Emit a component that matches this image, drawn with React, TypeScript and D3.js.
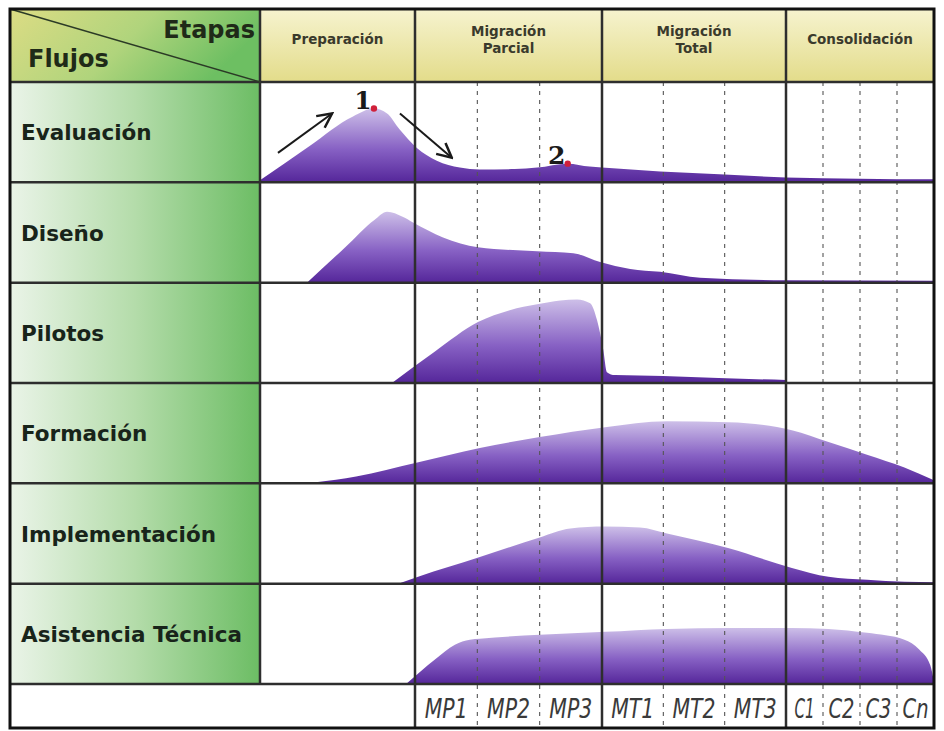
import React from "react";
import * as d3 from "d3";

// ---------- data ----------
const phases = ["Preparación", "Migración\nParcial", "Migración\nTotal", "Consolidación"];
const phaseBounds = [0, 1, 4, 7, 11];
const iterations = ["MP1", "MP2", "MP3", "MT1", "MT2", "MT3", "C1", "C2", "C3", "Cn"];
const iterationStart = 1;
const flows = ["Evaluación", "Diseño", "Pilotos", "Formación", "Implementación", "Asistencia Técnica"];

// [iteration unit, effort % of row height]
const evaluacion: [number, number][] = [
  [0, 1], [0.32, 36], [0.6, 66], [0.735, 74], [0.82, 69], [0.9, 53], [1.03, 34], [1.35, 21],
  [1.72, 14], [2.04, 12], [2.6, 12.5], [2.96, 14], [3.45, 18], [3.8, 15], [4.0, 14],
  [4.95, 10], [6.0, 7], [7.0, 4], [11.0, 2],
];
const diseno: [number, number][] = [
  [0.31, 0], [0.55, 35], [0.74, 63], [0.82, 71], [0.92, 66], [0.99, 60], [1.45, 45], [2.01, 35],
  [2.96, 31], [3.54, 29], [3.97, 20], [4.46, 13], [4.95, 10], [5.6, 4], [7.0, 1.5], [11.0, 1],
];
const pilotos: [number, number][] = [
  [0.86, 0], [1.32, 31], [2.01, 61], [2.52, 73], [2.96, 79], [3.33, 83], [3.6, 84],
  [3.81, 80], [3.92, 63], [4.02, 33], [4.08, 10], [4.21, 7], [5.0, 6], [5.9, 4], [7.0, 2],
];
const formacion: [number, number][] = [
  [0.36, 0], [0.62, 6], [1.02, 20], [2.04, 35], [3.0, 46], [4.05, 56], [5.06, 62],
  [6.07, 61], [7.16, 53], [8.15, 41], [9.19, 28], [10.2, 15], [11.0, 2],
];
const implementacion: [number, number][] = [
  [0.91, 0], [1.05, 6], [2.04, 26], [3.0, 46], [3.49, 55], [4.05, 57], [4.62, 56],
  [5.06, 50], [6.07, 35], [7.16, 15], [8.15, 6], [9.19, 3], [10.2, 1], [11.0, 0.5],
];
const asistencia: [number, number][] = [
  [0.95, 0], [1.32, 24], [1.64, 39], [1.88, 44], [2.04, 45], [3.0, 49], [4.05, 52],
  [5.06, 55], [6.07, 56], [7.16, 56], [8.15, 55], [9.19, 51], [10.2, 44], [10.6, 34],
  [10.9, 18], [11.0, 1],
];
const series = [evaluacion, diseno, pilotos, formacion, implementacion, asistencia];

// milestones on Evaluación: [unit, label]
const milestones: [number, string][] = [[0.735, "1"], [3.45, "2"]];
// arrows on Evaluación: [u0, v0, u1, v1]
const arrows: [number, number, number, number][] = [
  [0.116, 29, 0.465, 69],
  [0.903, 69, 1.59, 24],
];

// ---------- layout ----------
const W = 944, H = 731;
const L = 10, T = 9, R = 934, B = 728;
const labelRight = 260;
const headerBottom = 82;
const rowsBottom = 684;

export default function App() {
  const x = d3.scaleLinear().domain(phaseBounds).range([labelRight, 415, 602, 786, R]);
  const rowBand = d3.scaleBand<string>().domain(flows).range([headerBottom, rowsBottom]);
  const rowH = rowBand.bandwidth();
  const yFor = (flow: string) =>
    d3.scaleLinear().domain([0, 100]).range([rowBand(flow)! + rowH - 1, rowBand(flow)! + 1]);

  const evalY = yFor(flows[0]);
  const interp = (pts: [number, number][], u: number) => {
    for (let i = 0; i < pts.length - 1; i++) {
      if (u >= pts[i][0] && u <= pts[i + 1][0]) {
        const t = (u - pts[i][0]) / (pts[i + 1][0] - pts[i][0]);
        return pts[i][1] + t * (pts[i + 1][1] - pts[i][1]);
      }
    }
    return 0;
  };

  const iterBounds = d3.range(iterationStart, iterationStart + iterations.length + 1);
  const dashed = iterBounds.filter((b) => !phaseBounds.includes(b));

  const gridColor = "#2e2e2e";

  return (
    <svg
      width={W}
      height={H}
      style={{ position: "absolute", left: 0, top: 0, background: "#fff" }}
      fontFamily="DejaVu Sans, Verdana, sans-serif"
    >
      <defs>
        <linearGradient id="hdr" x1="0" y1="0" x2="0" y2="1">
          <stop offset="0" stopColor="#f6f3cf" />
          <stop offset="1" stopColor="#e3dc8a" />
        </linearGradient>
        <linearGradient id="corner" x1="0" y1="0" x2="1" y2="0.3">
          <stop offset="0" stopColor="#dcdc84" />
          <stop offset="0.55" stopColor="#b0d47c" />
          <stop offset="1" stopColor="#6dbf62" />
        </linearGradient>
        <linearGradient id="lbl" x1="0" y1="0" x2="1" y2="0">
          <stop offset="0" stopColor="#eaf4e8" />
          <stop offset="0.5" stopColor="#b4dcaa" />
          <stop offset="1" stopColor="#6cbd64" />
        </linearGradient>
        <linearGradient id="hump" x1="0" y1="0" x2="0" y2="1">
          <stop offset="0" stopColor="#cdbfe8" />
          <stop offset="0.55" stopColor="#8761c4" />
          <stop offset="1" stopColor="#55269a" />
        </linearGradient>
        <marker id="arr" viewBox="0 0 10 10" refX="9" refY="5" markerWidth="9" markerHeight="9" orient="auto">
          <path d="M1,1 L9,5 L1,9" fill="none" stroke="#1a1a1a" strokeWidth="1.4" />
        </marker>
      </defs>

      {/* backgrounds */}
      <rect x={L} y={T} width={labelRight - L} height={headerBottom - T} fill="url(#corner)" />
      <rect x={labelRight} y={T} width={R - labelRight} height={headerBottom - T} fill="url(#hdr)" />
      <rect x={L} y={headerBottom} width={labelRight - L} height={rowsBottom - headerBottom} fill="url(#lbl)" />

      {/* humps */}
      {flows.map((f, i) => {
        const y = yFor(f);
        const area = d3
          .area<[number, number]>()
          .x((d) => x(d[0]))
          .y0(y(0) + 1)
          .y1((d) => y(d[1]))
          .curve(d3.curveMonotoneX);
        return <path key={f} d={area(series[i]) || ""} fill="url(#hump)" />;
      })}

      {/* dashed iteration lines */}
      {dashed.map((b) => (
        <line
          key={"d" + b}
          x1={x(b)}
          x2={x(b)}
          y1={headerBottom}
          y2={B}
          stroke="#555"
          strokeWidth={1.1}
          strokeDasharray="4,5"
        />
      ))}

      {/* horizontal lines */}
      {flows.map((f) => (
        <line key={"h" + f} x1={L} x2={R} y1={rowBand(f)!} y2={rowBand(f)!} stroke={gridColor} strokeWidth={2.5} />
      ))}
      <line x1={L} x2={R} y1={rowsBottom} y2={rowsBottom} stroke={gridColor} strokeWidth={2.5} />

      {/* vertical phase lines */}
      <line x1={labelRight} x2={labelRight} y1={T} y2={rowsBottom} stroke={gridColor} strokeWidth={2.5} />
      {phaseBounds.slice(1, -1).map((b) => (
        <line key={"v" + b} x1={x(b)} x2={x(b)} y1={T} y2={B} stroke={gridColor} strokeWidth={2.5} />
      ))}

      {/* corner diagonal */}
      <line x1={L} y1={T} x2={labelRight} y2={headerBottom} stroke="#2b3a26" strokeWidth={1.5} />
      <text x={255} y={38} textAnchor="end" fontWeight="bold" fontSize={24} fill="#1f2a18">
        Etapas
      </text>
      <text x={28} y={67} fontWeight="bold" fontSize={24} fill="#1f2a18">
        Flujos
      </text>

      {/* phase headers */}
      {phases.map((p, i) => {
        const cx = (x(phaseBounds[i]) + x(phaseBounds[i + 1])) / 2;
        const lines = p.split("\n");
        const baseY = lines.length === 1 ? 44 : 36;
        return (
          <text key={p} x={cx} y={baseY} textAnchor="middle" fontWeight="bold" fontSize={13.5} fill="#3a3a2c">
            {lines.map((ln, k) => (
              <tspan key={k} x={cx} dy={k === 0 ? 0 : 17}>
                {ln}
              </tspan>
            ))}
          </text>
        );
      })}

      {/* flow labels */}
      {flows.map((f) => (
        <text
          key={"t" + f}
          x={21}
          y={rowBand(f)! + rowH / 2 + 8}
          fontWeight="bold"
          fontSize={21.5}
          fill="#18241a"
        >
          {f}
        </text>
      ))}

      {/* iteration labels */}
      {iterations.map((it, i) => {
        const u = iterationStart + i;
        const w = x(u + 1) - x(u);
        const narrow = it.startsWith("C");
        const len = narrow ? (it === "C1" ? 20 : 26) : 43;
        return (
          <text
            key={it}
            x={(x(u) + x(u + 1)) / 2}
            y={718}
            textAnchor="middle"
            fontStyle="italic"
            fontSize={26}
            fontFamily="DejaVu Sans Condensed, DejaVu Sans, sans-serif"
            fill="#3a3a3a"
            textLength={Math.min(len, w - 4)}
            lengthAdjust="spacingAndGlyphs"
          >
            {it}
          </text>
        );
      })}

      {/* Evaluación annotations */}
      {arrows.map((a, i) => (
        <line
          key={"a" + i}
          x1={x(a[0])}
          y1={evalY(a[1])}
          x2={x(a[2])}
          y2={evalY(a[3])}
          stroke="#1a1a1a"
          strokeWidth={2}
          markerEnd="url(#arr)"
        />
      ))}
      {milestones.map(([u, lab]) => {
        const cx = x(u);
        const cy = evalY(interp(evaluacion, u));
        return (
          <g key={"m" + lab}>
            <text
              x={cx - 11}
              y={cy}
              textAnchor="middle"
              fontWeight="bold"
              fontSize={25}
              fontFamily="DejaVu Serif, Liberation Serif, serif"
              fill="#1a1a1a"
            >
              {lab}
            </text>
            <circle cx={cx} cy={cy} r={3.2} fill="#d0203a" />
          </g>
        );
      })}

      {/* outer border */}
      <rect x={L} y={T} width={R - L} height={B - T} fill="none" stroke="#111" strokeWidth={3} />
    </svg>
  );
}
